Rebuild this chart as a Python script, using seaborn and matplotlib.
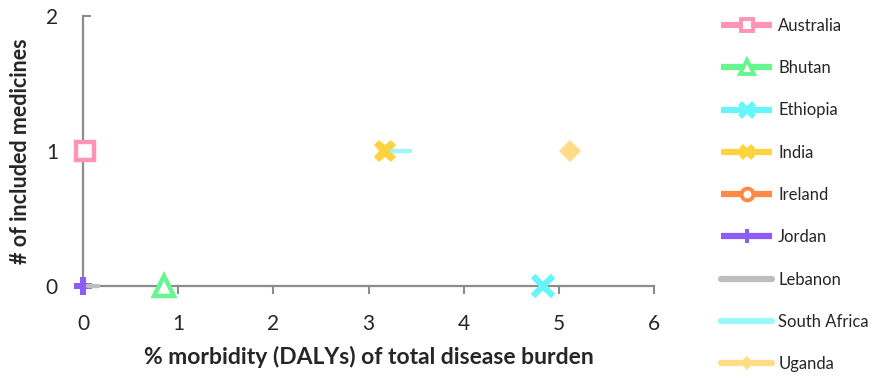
import matplotlib
matplotlib.use("Agg")
import matplotlib.pyplot as plt
from matplotlib.lines import Line2D
import seaborn as sns
import pandas as pd

# Share of total disease burden (DALYs, %) and number of included medicines
countries = ["Australia", "Bhutan", "Ethiopia", "India", "Ireland",
             "Jordan", "Lebanon", "South Africa", "Uganda"]
australia_x, australia_y = [0.02], [1]
bhutan_x, bhutan_y = [0.85], [0]
ethiopia_x, ethiopia_y = [4.83], [0]
india_x, india_y = [3.17], [1]
ireland_x, ireland_y = [], []
jordan_x, jordan_y = [0.0], [0]
lebanon_x, lebanon_y = [0.05, 0.16], [0, 0]
south_africa_x, south_africa_y = [3.25, 3.44], [1, 1]
uganda_x, uganda_y = [5.12], [1]

series_x = [australia_x, bhutan_x, ethiopia_x, india_x, ireland_x,
            jordan_x, lebanon_x, south_africa_x, uganda_x]
series_y = [australia_y, bhutan_y, ethiopia_y, india_y, ireland_y,
            jordan_y, lebanon_y, south_africa_y, uganda_y]

colors = ["#FF94B4", "#66F58F", "#66F5FA", "#FFD23F", "#FF8A45",
          "#8C5CF5", "#BEBEBE", "#9AF7FA", "#FFDC85"]

sns.set_theme(style="white")
plt.rcParams["font.family"] = ["Lato", "DejaVu Sans"]

fig = plt.figure(figsize=(8.73, 3.75), dpi=100)
ax = fig.add_axes([83 / 873, 89 / 375, (654 - 83) / 873, 270 / 375])

rows = []
for name, xs, ys in zip(countries, series_x, series_y):
    for x, y in zip(xs, ys):
        rows.append({"country": name, "x": x, "y": y})
df = pd.DataFrame(rows)

# Styling of each plotted point/segment
style = {
    "Australia": dict(marker="s", markersize=13, markerfacecolor="white",
                      markeredgewidth=3.2),
    "Bhutan": dict(marker="^", markersize=14, markerfacecolor="white",
                   markeredgewidth=3.2),
    "Ethiopia": dict(marker="x", markersize=14, markeredgewidth=4.5),
    "India": dict(marker="X", markersize=16, markeredgewidth=0),
    "Jordan": dict(marker="P", markersize=13, markeredgewidth=0),
    "Lebanon": dict(marker=None, linewidth=3.2),
    "South Africa": dict(marker=None, linewidth=3.2),
    "Uganda": dict(marker="D", markersize=11, markeredgewidth=0),
}

for name, color in zip(countries, colors):
    sub = df[df["country"] == name]
    if sub.empty:
        continue
    kw = dict(style[name])
    kw.setdefault("linewidth", 0)
    sns.lineplot(data=sub, x="x", y="y", ax=ax, color=color,
                 markeredgecolor=color, clip_on=False, zorder=3,
                 estimator=None, sort=False, legend=False, **kw)

ax.set_xlim(0, 6)
ax.set_ylim(0, 2)
ax.set_xticks(range(0, 7))
ax.set_yticks([0, 1, 2])
for side in ["top", "right"]:
    ax.spines[side].set_visible(False)
for side in ["left", "bottom"]:
    ax.spines[side].set_color("#8C8C8C")
    ax.spines[side].set_linewidth(1.6)
ax.tick_params(axis="x", direction="out", length=6, width=1.5,
               color="#8C8C8C", labelsize=15, pad=14, bottom=True)
ax.tick_params(axis="y", direction="in", length=6, width=1.5,
               color="#8C8C8C", labelsize=15, pad=18, left=True)
ax.grid(False)

ax.set_xlabel("% morbidity (DALYs) of total disease burden",
              fontsize=16.5, fontweight="bold", labelpad=9)
ax.set_ylabel("# of included medicines", fontsize=15.5, fontweight="bold",
              labelpad=11)

# Legend entries
leg_style = {
    "Australia": dict(marker="s", markersize=8.5, markerfacecolor="white",
                      markeredgewidth=2.8),
    "Bhutan": dict(marker="^", markersize=10.5, markerfacecolor="white",
                   markeredgewidth=2.8),
    "Ethiopia": dict(marker="x", markersize=9.5, markeredgewidth=4),
    "India": dict(marker="X", markersize=12, markeredgewidth=0),
    "Ireland": dict(marker="o", markersize=8.5, markerfacecolor="white",
                    markeredgewidth=2.8),
    "Jordan": dict(marker="P", markersize=10.5, markeredgewidth=0),
    "Lebanon": dict(),
    "South Africa": dict(),
    "Uganda": dict(marker="D", markersize=7, markeredgewidth=0),
}
handles = []
for name, color in zip(countries, colors):
    cap = "round" if name in ("Lebanon", "South Africa", "Uganda") else "butt"
    handles.append(Line2D([0], [0], color=color, linewidth=4.5,
                          markeredgecolor=color, solid_capstyle=cap,
                          **leg_style[name]))
fig.legend(handles, countries, loc="upper left",
           bbox_to_anchor=(714 / 873, 1 - 11 / 375), frameon=False,
           fontsize=12, handlelength=3.1, handletextpad=0.35,
           labelspacing=1.58, borderaxespad=0)

fig.savefig("out.png", dpi=100)
